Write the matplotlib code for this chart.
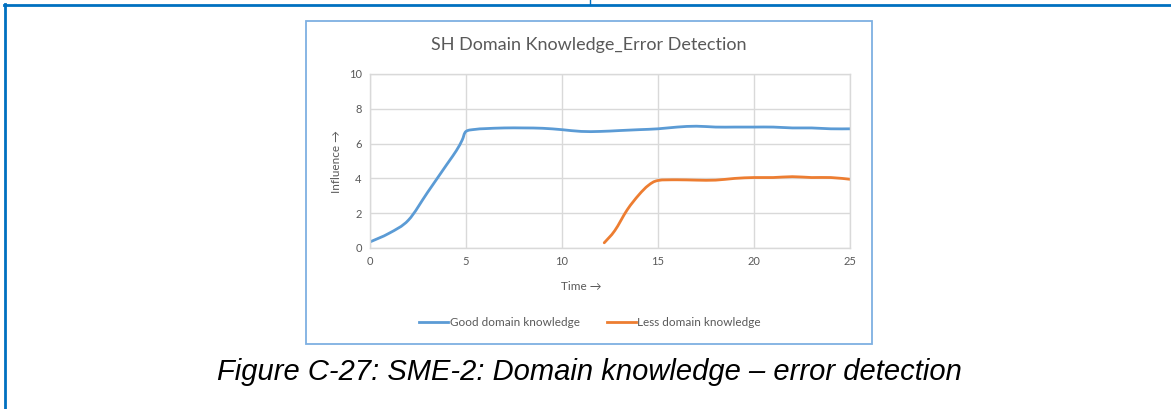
import matplotlib
matplotlib.use("Agg")
import matplotlib.pyplot as plt
from matplotlib.patches import Rectangle, PathPatch
from matplotlib.path import Path
from matplotlib.lines import Line2D

# Data
good_t = [0, 1, 2, 3, 4, 4.5, 4.8, 5, 5.5, 6, 7, 8, 9, 10, 11, 12, 13, 14, 15, 16, 17, 18, 19, 20, 21, 22, 23, 24, 25]
good_v = [0.35, 0.85, 1.6, 3.2, 4.8, 5.6, 6.2, 6.7, 6.82, 6.86, 6.9, 6.9, 6.88, 6.8, 6.7, 6.7, 6.75, 6.8, 6.85, 6.95, 7.0, 6.95, 6.95, 6.95, 6.95, 6.9, 6.9, 6.85, 6.85]
less_t = [12.2, 12.75, 13.4, 14.0, 14.5, 15, 16, 17, 18, 19, 20, 21, 22, 23, 24, 25]
less_v = [0.3, 1.0, 2.2, 3.05, 3.6, 3.88, 3.92, 3.9, 3.9, 4.0, 4.05, 4.05, 4.1, 4.05, 4.05, 3.95]

title = "SH Domain Knowledge_Error Detection"
xlabel = "Time \u2192"
ylabel = "Influence \u2192"
labels = ["Good domain knowledge", "Less domain knowledge"]
caption = "Figure C-27: SME-2: Domain knowledge \u2013 error detection"
xticks = [0, 5, 10, 15, 20, 25]
yticks = [0, 2, 4, 6, 8, 10]

W, H = 1171, 409
fig = plt.figure(figsize=(W / 100, H / 100), dpi=100)
fig.patch.set_facecolor("white")

def fx(px):
    return px / W

def fy(py):
    return 1 - py / H

def smooth_path(xs, ys):
    # Excel-style smoothed line: Catmull-Rom segments drawn as cubic Beziers
    pts = list(zip(xs, ys))
    n = len(pts)
    verts = [pts[0]]
    codes = [Path.MOVETO]
    for i in range(n - 1):
        p0 = pts[i - 1] if i > 0 else pts[i]
        p1 = pts[i]
        p2 = pts[i + 1]
        p3 = pts[i + 2] if i + 2 < n else pts[i + 1]
        c1 = (p1[0] + (p2[0] - p0[0]) / 6, p1[1] + (p2[1] - p0[1]) / 6)
        c2 = (p2[0] - (p3[0] - p1[0]) / 6, p2[1] - (p3[1] - p1[1]) / 6)
        verts += [c1, c2, p2]
        codes += [Path.CURVE4] * 3
    return Path(verts, codes)

# Outer document frame (dark blue)
frame = "#0070c0"
fig.add_artist(Line2D([fx(4), 1.0], [fy(5), fy(5)], color=frame, lw=2.0, transform=fig.transFigure))
fig.add_artist(Line2D([fx(5), fx(5)], [fy(4), 0.0], color=frame, lw=2.0, transform=fig.transFigure))
fig.add_artist(Line2D([fx(590), fx(590)], [1.0, fy(5)], color=frame, lw=1.0, transform=fig.transFigure))

# Chart box border (light blue)
fig.add_artist(Rectangle((fx(306), fy(344)), fx(872) - fx(306), fy(21) - fy(344),
                         fill=False, edgecolor="#7eb0e2", lw=1.3, transform=fig.transFigure))

blue = "#5b9bd5"
orange = "#ed7d31"
ax = fig.add_axes([fx(370), fy(248), fx(850) - fx(370), fy(74) - fy(248)])
for xs, ys, c in [(good_t, good_v, blue), (less_t, less_v, orange)]:
    ax.add_patch(PathPatch(smooth_path(xs, ys), facecolor="none", edgecolor=c, lw=2.0,
                           capstyle="round", joinstyle="round"))
ax.set_xlim(0, 25)
ax.set_ylim(0, 10)
ax.set_xticks(xticks)
ax.set_yticks(yticks)
grey = "#595959"
ax.tick_params(length=0, labelsize=8, labelcolor=grey, pad=6)
for lab in ax.get_xticklabels() + ax.get_yticklabels():
    lab.set_fontfamily("Lato")
ax.grid(True, color="#d9d9d9", lw=1.0)
ax.set_axisbelow(True)
for s in ax.spines.values():
    s.set_color("#d9d9d9")
    s.set_linewidth(1.0)

fig.text(fx(589), fy(45), title, ha="center", va="center", fontsize=13, color=grey, family="Lato")
fig.text(fx(336), fy(162), ylabel, ha="center", va="center", rotation=90, fontsize=8.5, color=grey, family=["Lato", "DejaVu Sans"])
fig.text(fx(581), fy(286), xlabel, ha="center", va="center", fontsize=8.5, color=grey, family=["Lato", "DejaVu Sans"])

# Legend
handles = [Line2D([], [], color=blue, lw=2.0), Line2D([], [], color=orange, lw=2.0)]
leg = fig.legend(handles, labels, loc="center", bbox_to_anchor=(fx(590), fy(323)), ncol=2,
                 frameon=False, handlelength=2.5, handletextpad=0.1, columnspacing=2.3,
                 prop={"family": "Lato", "size": 8.5})
for t in leg.get_texts():
    t.set_color(grey)

fig.text(fx(589), fy(372), caption, ha="center", va="center", fontsize=21, style="italic",
         family="Liberation Sans", color="black")

fig.savefig("out.png", dpi=100, facecolor="white")
